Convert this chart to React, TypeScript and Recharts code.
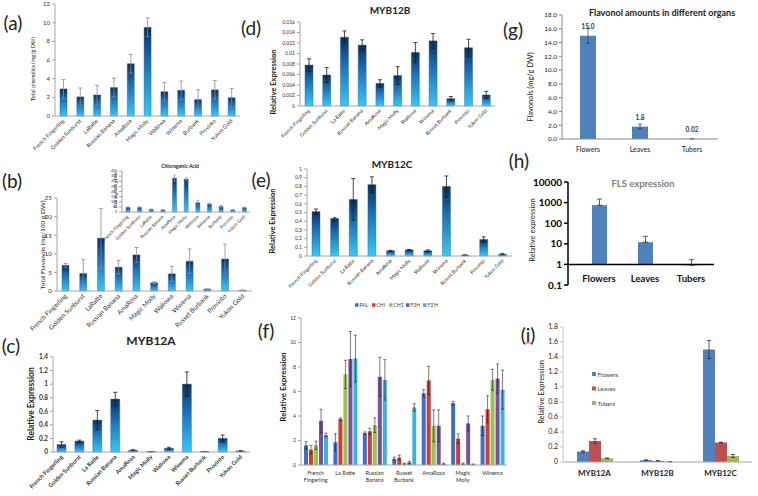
import { Bar, BarChart, ErrorBar, LabelList, ReferenceLine, XAxis, YAxis } from "recharts";

const FONT = "Lato, 'Liberation Sans', sans-serif";

// cultivar names, as written on each panel
const cultivarsPhen = ["French Fingerling", "Golden Sunburst", "LaRatte", "Russian Banana", "AmaRosa", "Magic Molly", "Wallowa", "Winema", "Burbank", "Provinto", "Yukon Gold"];
const cultivarsFlav = ["French Fingerling", "Golden Sunburst", "LaRatte", "Russian Banana", "AmaRosa", "Magic Molly", "Wallowa", "Winema", "Russet Burbank", "Provinto", "Yukon Gold"];
const cultivarsMyb = ["French Fingerling", "Golden Sunburst", "La Ratte", "Russian Banana", "AmaRosa", "Magic Molly", "Wallowa", "Winema", "Russet Burbank", "Provinto", "Yukon Gold"];

// (a) total phenolics
const phenolics = [2.9, 2.05, 2.25, 3.05, 5.6, 9.5, 2.6, 2.75, 1.75, 2.8, 1.95];
const phenolicsErr = [1.0, 0.95, 1.05, 1.0, 1.0, 1.0, 1.0, 1.0, 1.05, 1.0, 1.0];
// (b) total flavonols + chlorogenic acid inset
const flavonols = [6.9, 4.7, 14.2, 6.4, 9.7, 2.2, 4.6, 8.0, 0.5, 8.6, 0.2];
const flavonolsErr = [0.5, 3.8, 8.0, 1.8, 2.0, 0.3, 2.0, 3.3, 0.1, 4.0, 0.05];
const cga = [45, 45, 25, 20, 330, 320, 90, 78, 52, 20, 42];
const cgaErr = [5, 5, 4, 3, 30, 15, 25, 10, 12, 4, 5];
// (c)-(e) MYB expression
const myb12a = [0.11, 0.16, 0.47, 0.78, 0.025, 0.005, 0.055, 1.0, 0.006, 0.2, 0.015];
const myb12aErr = [0.04, 0.015, 0.14, 0.1, 0.008, 0.002, 0.015, 0.18, 0.002, 0.05, 0.005];
const myb12b = [0.0078, 0.0059, 0.0131, 0.0116, 0.0043, 0.0058, 0.0102, 0.0124, 0.0014, 0.0111, 0.0021];
const myb12bErr = [0.0012, 0.0014, 0.0012, 0.001, 0.0007, 0.0017, 0.0019, 0.0014, 0.0004, 0.0016, 0.0007];
const myb12c = [0.51, 0.43, 0.65, 0.82, 0.06, 0.07, 0.06, 0.8, 0.01, 0.19, 0.02];
const myb12cErr = [0.03, 0.01, 0.24, 0.09, 0.005, 0.004, 0.01, 0.12, 0.003, 0.03, 0.01];

const ticksA = [0, 2, 4, 6, 8, 10, 12];
const ticksB = [0, 5, 10, 15, 20, 25];
const ticksCga = [0, 50, 100, 150, 200, 250, 300, 350, 400];
const ticksC = [0, 0.2, 0.4, 0.6, 0.8, 1, 1.2, 1.4];
const ticksD = [0, 0.002, 0.004, 0.006, 0.008, 0.01, 0.012, 0.014, 0.016];
const ticksE = [0, 0.1, 0.2, 0.3, 0.4, 0.5, 0.6, 0.7, 0.8, 0.9, 1];

// (f) pathway genes
const fGroups = ["French\nFingerling", "La Ratte", "Russian\nBanana", "Russet\nBurbank", "AmaRosa", "Magic\nMolly", "Winema"];
const fGenes = ["PAL", "CHI", "CHS", "F3H", "F3'H"];
const fColors = ["#3a70c6", "#cf3b35", "#96c44d", "#7b4fa6", "#3ab5da"];
const palVals = [1.6, 1.85, 2.6, 0.5, 5.85, 5.05, 3.2];
const palErr = [0.3, 0.7, 0.1, 0.15, 0.3, 0.15, 0.8];
const chiVals = [1.25, 3.75, 2.75, 0.6, 6.9, 2.15, 4.55];
const chiErr = [0.35, 0.1, 0.25, 0.2, 1.15, 0.4, 1.1];
const chsVals = [1.6, 7.4, 3.25, 0.1, 3.2, 0.1, 6.95];
const chsErr = [0.35, 1.15, 0.6, 0.05, 1.3, 0.05, 0.85];
const f3hVals = [3.6, 8.65, 7.2, 0.2, 3.2, 3.4, 7.05];
const f3hErr = [0.95, 2.25, 1.6, 0.1, 1.3, 0.6, 1.2];
const f3phVals = [2.45, 8.7, 6.95, 4.7, 0.1, 0.05, 6.15];
const f3phErr = [0.15, 1.9, 1.65, 0.3, 0.05, 0.03, 1.6];
const ticksF = [0, 2, 4, 6, 8, 10, 12];

// (g) flavonols per organ, (h) FLS expression
const organs = ["Flowers", "Leaves", "Tubers"];
const organFlavonols = [15.0, 1.8, 0.02];
const organFlavonolsErr = [1.1, 0.35, 0.01];
const ticksG = [0, 2, 4, 6, 8, 10, 12, 14, 16, 18];
const flsExpr = [750, 12, 0.9];
const flsErrUp = [730, 11, 0.8];
const ticksH = [0.1, 1, 10, 100, 1000, 10000];

// (i) MYB12 per organ
const mybGenes = ["MYB12A", "MYB12B", "MYB12C"];
const organColors = ["#4f81bd", "#c0504d", "#9bbb59"];
const flowersMyb = [0.14, 0.025, 1.5];
const flowersMybErr = [0.01, 0.003, 0.12];
const leavesMyb = [0.28, 0.015, 0.26];
const leavesMybErr = [0.03, 0.003, 0.005];
const tubersMyb = [0.05, 0.003, 0.08];
const tubersMybErr = [0.003, 0.001, 0.02];
const ticksI = [0, 0.2, 0.4, 0.6, 0.8, 1, 1.2, 1.4, 1.6, 1.8];

const rows = (names: string[], v: number[], e: number[]) => names.map((name, i) => ({ name, v: v[i], e: e[i] }));

const fRows = fGroups.map((name, i) => ({
  name,
  PAL: palVals[i], PALe: palErr[i],
  CHI: chiVals[i], CHIe: chiErr[i],
  CHS: chsVals[i], CHSe: chsErr[i],
  F3H: f3hVals[i], F3He: f3hErr[i],
  "F3'H": f3phVals[i], "F3'He": f3phErr[i],
}));
const gRows = rows(organs, organFlavonols, organFlavonolsErr);
const hRows = organs.map((name, i) => ({ name, v: flsExpr[i], e: [0, flsErrUp[i]] }));
const iRows = mybGenes.map((name, i) => ({
  name,
  Flowers: flowersMyb[i], FlowersE: flowersMybErr[i],
  Leaves: leavesMyb[i], LeavesE: leavesMybErr[i],
  Tubers: tubersMyb[i], TubersE: tubersMybErr[i],
}));

function RotTick(props: any) {
  const { x, y, payload, fs, bold } = props;
  return (
    <g transform={`translate(${x},${y - 4}) rotate(-45)`}>
      <text x={0} y={0} dy="0.35em" textAnchor="end" fontSize={fs} fontWeight={bold ? 700 : 400} fill="#333" fontFamily={FONT}>
        {payload.value}
      </text>
    </g>
  );
}

function TwoLineTick(props: any) {
  const { x, y, payload } = props;
  const lines = String(payload.value).split("\n");
  return (
    <text x={x} y={y} textAnchor="middle" fontSize={5.5} fill="#333" fontFamily={FONT}>
      {lines.map((l, i) => (
        <tspan key={i} x={x} dy={i === 0 ? "0.35em" : "1.25em"}>{l}</tspan>
      ))}
    </text>
  );
}

function GradBars(p: any) {
  const max = p.ticks[p.ticks.length - 1];
  return (
    <div style={{ position: "absolute", left: p.left, top: p.top }}>
      <BarChart width={p.width} height={p.height} data={p.rows} margin={p.margin}>
        <defs>
          <linearGradient id={p.id} x1="0" y1="0" x2="0" y2="1">
            <stop offset="0%" stopColor="#0b2f5c" />
            <stop offset="40%" stopColor="#1a70b8" />
            <stop offset="100%" stopColor="#36c8f7" />
          </linearGradient>
        </defs>
        <XAxis dataKey="name" interval={0} height={p.xHeight} stroke="#a6a6a6" tickLine={false}
          tick={(t: any) => <RotTick {...t} fs={p.labelFs} bold={p.labelBold} />} />
        <YAxis width={p.yWidth} domain={[0, max]} ticks={p.ticks} interval={0} stroke="#a6a6a6" tickSize={3}
          tickFormatter={(v: number) => String(v)}
          tick={{ fontSize: p.tickFs, fill: "#333", fontWeight: p.tickBold ? 700 : 400, fontFamily: FONT }} />
        <Bar dataKey="v" fill={`url(#${p.id})`} stroke="#1d5d9b" strokeWidth={0.4} barSize={p.barSize} isAnimationActive={false}>
          <ErrorBar dataKey="e" width={p.errW} stroke={p.errColor} strokeWidth={0.8} />
        </Bar>
      </BarChart>
    </div>
  );
}

function T({ x, y, size, bold, color = "#222", rot, children }: any) {
  return (
    <text x={x} y={y} textAnchor="middle" dominantBaseline="central" fontSize={size} fontWeight={bold ? 700 : 400}
      fill={color} fontFamily={FONT} transform={rot ? `rotate(-90 ${x} ${y})` : undefined}>
      {children}
    </text>
  );
}

export default function App() {
  return (
    <div style={{ position: "absolute", left: 0, top: 0, width: 758, height: 496, background: "#fff", overflow: "hidden" }}>
      <GradBars id="ga" left={0} top={0} width={245} height={160} rows={rows(cultivarsPhen, phenolics, phenolicsErr)}
        margin={{ top: 4, right: 5, left: 0, bottom: 0 }} yWidth={55} xHeight={44} ticks={ticksA}
        tickFs={6} labelFs={5.5} barSize={7} errColor="#8c8c8c" errW={2} />
      <GradBars id="gb" left={0} top={160} width={255} height={175} rows={rows(cultivarsFlav, flavonols, flavonolsErr)}
        margin={{ top: 38, right: 3, left: 0, bottom: 0 }} yWidth={57} xHeight={44} ticks={ticksB}
        tickFs={6.5} labelFs={6.5} barSize={7} errColor="#8c8c8c" errW={2} />
      <GradBars id="gcga" left={90} top={150} width={162} height={100} rows={rows(cultivarsPhen, cga, cgaErr)}
        margin={{ top: 21, right: 2, left: 0, bottom: 0 }} yWidth={32} xHeight={38} ticks={ticksCga}
        tickFs={3.5} labelFs={4.5} barSize={4} errColor="#8c8c8c" errW={1} />
      <GradBars id="gc" left={0} top={330} width={253} height={166} rows={rows(cultivarsMyb, myb12a, myb12aErr)}
        margin={{ top: 27, right: 3, left: 0, bottom: 0 }} yWidth={53} xHeight={44} ticks={ticksC}
        tickFs={6.5} tickBold labelFs={5.8} labelBold barSize={9} errColor="#1a1a1a" errW={2} />
      <GradBars id="gd" left={255} top={0} width={243} height={160} rows={rows(cultivarsMyb, myb12b, myb12bErr)}
        margin={{ top: 22, right: 3, left: 0, bottom: 0 }} yWidth={45} xHeight={54} ticks={ticksD}
        tickFs={5} labelFs={5} barSize={8} errColor="#1a1a1a" errW={2} />
      <GradBars id="ge" left={255} top={150} width={260} height={160} rows={rows(cultivarsMyb, myb12c, myb12cErr)}
        margin={{ top: 19, right: 3, left: 0, bottom: 0 }} yWidth={52} xHeight={54} ticks={ticksE}
        tickFs={5} labelFs={5} barSize={8} errColor="#1a1a1a" errW={2} />

      {/* (f) */}
      <div style={{ position: "absolute", left: 255, top: 298 }}>
        <BarChart width={255} height={198} data={fRows} margin={{ top: 20, right: 3, left: 0, bottom: 0 }} barGap={1} barCategoryGap="10%">
          <XAxis dataKey="name" interval={0} height={31} stroke="#a6a6a6" tickLine={false} tick={(t: any) => <TwoLineTick {...t} />} />
          <YAxis width={46} domain={[0, 12]} ticks={ticksF} interval={0} stroke="#a6a6a6" tickSize={3}
            tick={{ fontSize: 5, fill: "#333", fontFamily: FONT }} />
          {fGenes.map((g, i) => (
            <Bar key={g} dataKey={g} fill={fColors[i]} barSize={4} isAnimationActive={false}>
              <ErrorBar dataKey={g + "e"} width={1.5} stroke="#222" strokeWidth={0.6} />
            </Bar>
          ))}
        </BarChart>
      </div>

      {/* (g) */}
      <div style={{ position: "absolute", left: 505, top: 0 }}>
        <BarChart width={253} height={160} data={gRows} margin={{ top: 15, right: 40, left: 0, bottom: 0 }}>
          <XAxis dataKey="name" height={21} interval={0} stroke="#888" tickLine={false} tick={{ fontSize: 7, fill: "#222", fontFamily: FONT }} />
          <YAxis width={57} domain={[0, 18]} ticks={ticksG} interval={0} stroke="#888" tickSize={3}
            tickFormatter={(v: number) => v.toFixed(1)} tick={{ fontSize: 6.5, fill: "#222", fontFamily: FONT }} />
          <Bar dataKey="v" fill="#4f81bd" barSize={16} isAnimationActive={false}>
            <ErrorBar dataKey="e" width={2} stroke="#333" strokeWidth={0.7} />
            <LabelList dataKey="v" position="top" offset={7} formatter={(v: any) => (v >= 1 ? Number(v).toFixed(1) : String(v))}
              style={{ fontSize: 6.5, fontWeight: 700, fill: "#333", fontFamily: FONT }} />
          </Bar>
        </BarChart>
      </div>

      {/* (h) */}
      <div style={{ position: "absolute", left: 505, top: 160 }}>
        <BarChart width={253} height={136} data={hRows} margin={{ top: 22, right: 44, left: 0, bottom: 0 }}>
          <XAxis dataKey="name" height={11} interval={0} axisLine={false} tickLine={false} padding={{ left: 8, right: 0 }}
            tick={(t: any) => (
              <text x={t.x} y={t.y - 15} textAnchor="middle" dominantBaseline="central" fontSize={9.5} fontWeight={700} fill="#111" fontFamily={FONT}>
                {t.payload.value}
              </text>
            )} />
          <YAxis width={63} scale="log" domain={[0.1, 10000]} ticks={ticksH} interval={0} allowDataOverflow
            stroke="#000" strokeWidth={1.5} tickSize={4} tickFormatter={(v: number) => String(v)}
            tick={{ fontSize: 10, fontWeight: 700, fill: "#000", fontFamily: FONT }} />
          <ReferenceLine y={1} stroke="#000" strokeWidth={1.5} />
          <Bar dataKey={(d: any) => [1, d.v]} fill="#4f81bd" barSize={15} isAnimationActive={false}>
            <ErrorBar dataKey="e" width={2.5} stroke="#333" strokeWidth={0.8} />
          </Bar>
        </BarChart>
      </div>

      {/* (i) */}
      <div style={{ position: "absolute", left: 505, top: 305 }}>
        <BarChart width={253} height={191} data={iRows} margin={{ top: 22, right: 6, left: 0, bottom: 0 }} barGap={0} barCategoryGap="21%">
          <XAxis dataKey="name" height={34} interval={0} stroke="#a6a6a6" tickLine={false} tick={{ fontSize: 8, fontWeight: 700, fill: "#222", fontFamily: FONT }} />
          <YAxis width={58} domain={[0, 1.8]} ticks={ticksI} interval={0} stroke="#c8c8c8" tickSize={3}
            tickFormatter={(v: number) => String(v)} tick={{ fontSize: 7, fill: "#222", fontFamily: FONT }} />
          {organs.map((o, i) => (
            <Bar key={o} dataKey={o} fill={organColors[i]} barSize={12} isAnimationActive={false}>
              <ErrorBar dataKey={o + "E"} width={2} stroke="#222" strokeWidth={0.7} />
            </Bar>
          ))}
        </BarChart>
      </div>

      <svg width={758} height={496} style={{ position: "absolute", left: 0, top: 0, pointerEvents: "none" }}>
        <T x={13} y={22} size={19}>(a)</T>
        <T x={12} y={180} size={19}>(b)</T>
        <T x={11} y={345} size={19}>(c)</T>
        <T x={251} y={27} size={19}>(d)</T>
        <T x={261} y={179} size={19}>(e)</T>
        <T x={266} y={330} size={19}>(f)</T>
        <T x={513} y={29} size={19}>(g)</T>
        <T x={519} y={160} size={19}>(h)</T>
        <T x={528} y={334} size={19}>(i)</T>
        <line x1={525} y1={343} x2={531} y2={343} stroke="#e03030" strokeWidth={0.8} />

        <T x={151} y={340} size={12} bold>MYB12A</T>
        <T x={390} y={10} size={10} bold>MYB12B</T>
        <T x={392} y={164} size={10} bold>MYB12C</T>
        <T x={180} y={166} size={5} bold>Chlorogenic Acid</T>
        <T x={662} y={12} size={9} bold>Flavonol amounts in different organs</T>
        <T x={643} y={183} size={9.5} bold color="#7f7f7f">FLS expression</T>

        <T x={33} y={69} size={5.5} rot>Total phenolics (mg/g DW)</T>
        <T x={42} y={245} size={6.5} rot>Total Flavonols (mg/100 g DW)</T>
        <T x={115} y={190} size={4} rot>CGA (mg/100 g DW)</T>
        <T x={31} y={404} size={8.5} bold rot>Relative Expression</T>
        <T x={273} y={82} size={7.5} bold rot>Relative Expression</T>
        <T x={272} y={221} size={7.5} bold rot>Relative Expression</T>
        <T x={283} y={387} size={8} bold rot>Relative Expression</T>
        <T x={530} y={87} size={7.5} rot>Flavonols (mg/g DW)</T>
        <T x={532} y={230} size={7.5} rot>Relative expression</T>
        <T x={541} y={392} size={7.5} rot>Relative Expression</T>

        {fGenes.map((g, i) => (
          <g key={g} transform={`translate(${355 + i * 17}, 305)`}>
            <rect x={0} y={-1.75} width={3.5} height={3.5} fill={fColors[i]} />
            <text x={4.5} y={0} dominantBaseline="central" fontSize={5} fill="#444" fontFamily={FONT}>{g}</text>
          </g>
        ))}
        {organs.map((o, i) => (
          <g key={o} transform={`translate(592, ${374 + i * 14.5})`}>
            <rect x={0} y={-2} width={4} height={4} fill={organColors[i]} />
            <text x={5.5} y={0} dominantBaseline="central" fontSize={6} fill="#444" fontFamily={FONT}>{o}</text>
          </g>
        ))}
      </svg>
    </div>
  );
}
